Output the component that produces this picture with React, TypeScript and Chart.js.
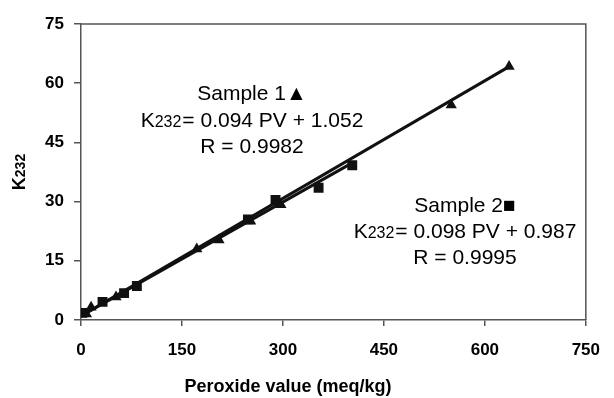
import React, { useEffect, useRef } from "react";
import { Chart, registerables } from "chart.js";

Chart.register(...registerables);

// Sample 1 (triangles)
const sample1PV = [8, 15, 52, 172, 205, 252, 297, 550, 636];
const sample1K = [1.5, 3.2, 5.8, 18.0, 20.3, 25.0, 29.2, 54.5, 64.2];
// Sample 2 (squares)
const sample2PV = [2, 32, 64, 83, 248, 289, 353, 403];
const sample2K = [1.8, 4.6, 6.8, 8.6, 25.5, 30.4, 33.5, 39.2];

// Trend-line endpoints
const trend1PV = [0, 636];
const trend1K = [1.0, 64.2];
const trend2PV = [0, 403];
const trend2K = [1.0, 39.8];

const xTicks = [0, 150, 300, 450, 600, 750];
const yTicks = [0, 15, 30, 45, 60, 75];

const xTitle = "Peroxide value (meq/kg)";
const yTitleMain = "K";
const yTitleSub = "232";

const note1 = ["Sample 1\u25B2", "= 0.094 PV + 1.052", "R = 0.9982"];
const note2 = ["Sample 2\u25A0", "= 0.098 PV + 0.987", "R = 0.9995"];

const FONT = "'Liberation Sans', Arial, sans-serif";

function drawNote(ctx: CanvasRenderingContext2D, lines: string[], cx: number, baselines: number[]) {
  const size = 21;
  const sub = 16;
  ctx.save();
  ctx.fillStyle = "#000";
  ctx.textBaseline = "alphabetic";
  ctx.textAlign = "left";
  ctx.font = `${size}px ${FONT}`;
  let w = ctx.measureText(lines[0]).width;
  ctx.fillText(lines[0], cx - w / 2, baselines[0]);
  const wK = ctx.measureText("K").width;
  const wRest = ctx.measureText(lines[1]).width;
  ctx.font = `${sub}px ${FONT}`;
  const wSub = ctx.measureText("232").width;
  const total = wK + wSub + 1 + wRest;
  let x = cx - total / 2;
  ctx.font = `${size}px ${FONT}`;
  ctx.fillText("K", x, baselines[1]);
  x += wK;
  ctx.font = `${sub}px ${FONT}`;
  ctx.fillText("232", x, baselines[1]);
  x += wSub + 1;
  ctx.font = `${size}px ${FONT}`;
  ctx.fillText(lines[1], x, baselines[1]);
  w = ctx.measureText(lines[2]).width;
  ctx.fillText(lines[2], cx - w / 2, baselines[2]);
  ctx.restore();
}

const framePlugin = {
  id: "frameAndText",
  afterDraw(chart: any) {
    const { ctx, chartArea } = chart;
    ctx.save();
    ctx.strokeStyle = "#555";
    ctx.lineWidth = 1.5;
    ctx.beginPath();
    ctx.moveTo(chartArea.left, chartArea.top);
    ctx.lineTo(chartArea.right, chartArea.top);
    ctx.lineTo(chartArea.right, chartArea.bottom);
    ctx.stroke();

    ctx.fillStyle = "#000";
    ctx.font = `bold 18px ${FONT}`;
    ctx.textAlign = "center";
    ctx.textBaseline = "middle";
    ctx.fillText(xTitle, 288, 387);

    ctx.translate(18, 172);
    ctx.rotate(-Math.PI / 2);
    ctx.font = `bold 18px ${FONT}`;
    const wK = ctx.measureText(yTitleMain).width;
    ctx.font = `bold 14px ${FONT}`;
    const wS = ctx.measureText(yTitleSub).width;
    const tot = wK + wS;
    ctx.textAlign = "left";
    ctx.textBaseline = "alphabetic";
    ctx.font = `bold 18px ${FONT}`;
    ctx.fillText(yTitleMain, -tot / 2, 7);
    ctx.font = `bold 14px ${FONT}`;
    ctx.fillText(yTitleSub, -tot / 2 + wK, 7);
    ctx.restore();

    drawNote(ctx, note1, 252, [100, 127, 153]);
    drawNote(ctx, note2, 465, [212, 238, 264]);
  },
};

export default function App() {
  const ref = useRef<HTMLCanvasElement | null>(null);
  useEffect(() => {
    if (!ref.current) return;
    const chart = new Chart(ref.current, {
      type: "scatter",
      data: {
        datasets: [
          {
            label: "Trend 1",
            data: trend1PV.map((x, i) => ({ x, y: trend1K[i] })),
            showLine: true,
            borderColor: "#111",
            borderWidth: 3,
            pointRadius: 0,
          },
          {
            label: "Trend 2",
            data: trend2PV.map((x, i) => ({ x, y: trend2K[i] })),
            showLine: true,
            borderColor: "#111",
            borderWidth: 3,
            pointRadius: 0,
          },
          {
            label: "Sample 1",
            data: sample1PV.map((x, i) => ({ x, y: sample1K[i] })),
            showLine: false,
            borderColor: "#111",
            backgroundColor: "#111",
            pointStyle: "triangle",
            pointRadius: 6.5,
            pointBorderWidth: 0,
          },
          {
            label: "Sample 2",
            data: sample2PV.map((x, i) => ({ x, y: sample2K[i] })),
            showLine: false,
            borderColor: "#111",
            backgroundColor: "#111",
            pointStyle: "rect",
            pointRadius: 7,
            pointBorderWidth: 0,
          },
        ],
      },
      options: {
        animation: false,
        responsive: false,
        maintainAspectRatio: false,
        layout: { padding: { left: 0, right: 21, top: 24, bottom: 0 } },
        plugins: { legend: { display: false }, tooltip: { enabled: false } },
        scales: {
          x: {
            type: "linear",
            min: 0,
            max: 750,
            afterFit: (s: any) => { s.height = 78; },
            afterBuildTicks: (s: any) => { s.ticks = xTicks.map((v) => ({ value: v })); },
            ticks: {
              color: "#000",
              font: { family: FONT, size: 17, weight: "bold" },
              padding: 14,
              maxRotation: 0,
            },
            grid: { drawOnChartArea: false, drawTicks: true, tickLength: 6, color: "#555", lineWidth: 1.5 },
            border: { color: "#555", width: 1.5 },
          },
          y: {
            type: "linear",
            min: 0,
            max: 75,
            afterFit: (s: any) => { s.width = 81; },
            afterBuildTicks: (s: any) => { s.ticks = yTicks.map((v) => ({ value: v })); },
            ticks: {
              color: "#000",
              font: { family: FONT, size: 17, weight: "bold" },
              padding: 10,
            },
            grid: { drawOnChartArea: false, drawTicks: true, tickLength: 7, color: "#555", lineWidth: 1.5 },
            border: { color: "#555", width: 1.5 },
          },
        },
      },
      plugins: [framePlugin],
    } as any);
    return () => chart.destroy();
  }, []);
  return (
    <div style={{ position: "fixed", left: 0, top: 0, width: 614, height: 398, background: "#fff" }}>
      <canvas ref={ref} width={614} height={398} style={{ width: 614, height: 398, display: "block" }} />
    </div>
  );
}
